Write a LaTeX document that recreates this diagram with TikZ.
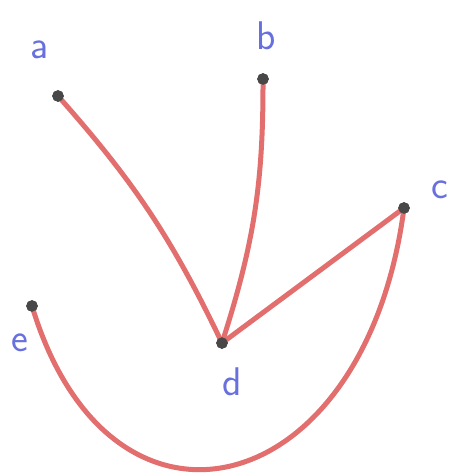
\documentclass[tikz,border=0pt]{standalone}
\usepackage{tikz}
\definecolor{edgered}{RGB}{226,110,110}
\definecolor{vertgray}{RGB}{72,72,72}
\definecolor{labblue}{RGB}{104,112,222}
\tikzset{
  vert/.style={draw=vertgray,circle,fill=vertgray,inner sep=0pt,minimum size=11pt},
  lab/.style={font=\fontsize{40}{42}\selectfont\sffamily,text=labblue,inner sep=0pt},
  edge/.style={draw=edgered,line width=5pt,line cap=round},
}
\begin{document}
\begin{tikzpicture}[x=1pt,y=-1pt]
  \useasboundingbox (0,0) rectangle (452,474);
  % vertices
  \node[vert] (a) at (58,96) {};
  \node[vert] (b) at (263,79) {};
  \node[vert] (c) at (404,208) {};
  \node[vert] (d) at (222,343) {};
  \node[vert] (e) at (32,306) {};
  % edges
  \draw[edge] (a.center) to[bend left=8] (d.center);
  \draw[edge] (b.center) to[bend left=9] (d.center);
  \draw[edge] (d.center) -- (c.center);
  \draw[edge] (e.center) .. controls (110,565) and (365,505) .. (c.center);
  \node[vert] at (a) {};
  \node[vert] at (b) {};
  \node[vert] at (c) {};
  \node[vert] at (d) {};
  \node[vert] at (e) {};
  % labels
  \node[lab] (la) at (40,50) {a};
  \node[lab] (lb) at (266,36) {b};
  \node[lab] (lc) at (440,190) {c};
  \node[lab] (ld) at (232,382) {d};
  \node[lab] (le) at (20,343) {e};
\end{tikzpicture}
\end{document}
